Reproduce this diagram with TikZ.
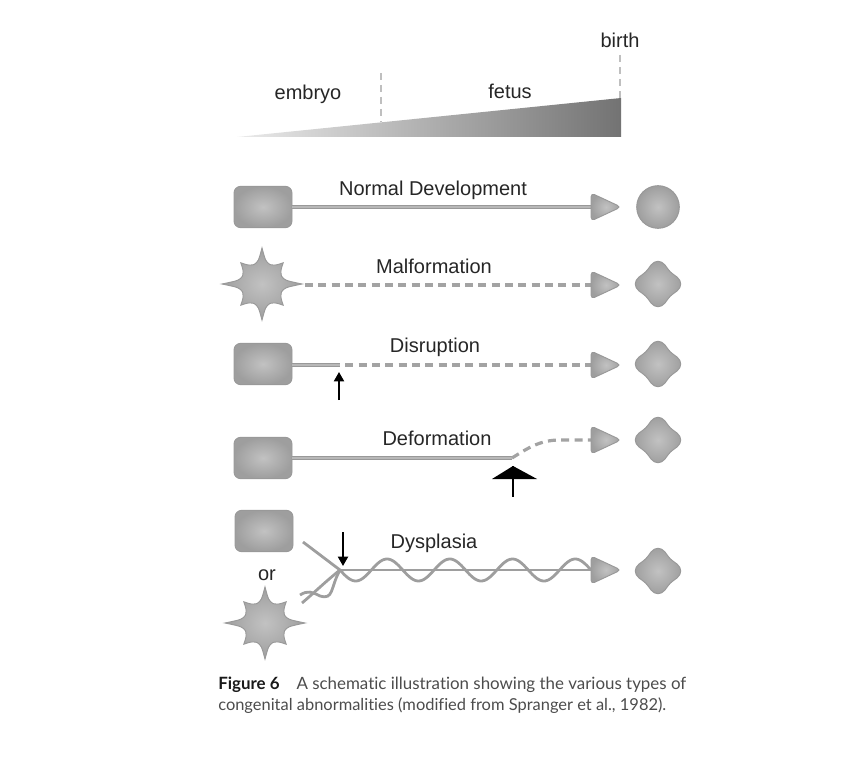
\documentclass[tikz,border=0pt]{standalone}
\usepackage{fontspec}
\setmainfont{Liberation Sans}
\newfontfamily\capfont{Lato}[Ligatures=NoCommon]
\usetikzlibrary{arrows.meta}
\tikzset{
  lbl/.style={font=\fontsize{15}{18}\selectfont, text=black!85, inner sep=0pt, anchor=base},
  shp/.style={draw=black!40, line width=0.7pt, inner color=black!24, outer color=black!38},
  cell/.style={shp, rounded corners=5pt, minimum width=43.5pt, minimum height=31pt, inner sep=0pt},
  ball/.style={shp, circle, minimum size=32pt, inner sep=0pt},
  wire/.style={draw=black!40, double=black!28, line width=0.8pt, double distance=1.1pt},
  dwire/.style={draw=black!36, line width=2.4pt, dash pattern=on 6pt off 4pt},
  wave/.style={draw=black!38, line width=2.1pt},
  vdash/.style={draw=black!25, line width=1.5pt, dash pattern=on 5pt off 4pt},
  hitarrow/.style={draw=black, line width=1.5pt, -{Triangle[width=7.5pt,length=7pt]}},
  spiky/.pic={\path[shp] (-22.5:21) \foreach \a/\R in {0/40,45/30,90/36,135/30,180/40,225/30,270/36,315/30} { .. controls (\a-9:23) .. (\a:\R) .. controls (\a+9:23) .. (\a+22.5:21) } -- cycle;},
  quad/.pic={\path[shp] (-7,-19) .. controls (-3,-24) and (3,-24) .. (7,-19) .. controls (12,-12) .. (19,-7) .. controls (24,-3) and (24,3) .. (19,7) .. controls (12,12) .. (7,19) .. controls (3,24) and (-3,24) .. (-7,19) .. controls (-12,12) .. (-19,7) .. controls (-24,3) and (-24,-3) .. (-19,-7) .. controls (-12,-12) .. (-7,-19) -- cycle;},
  tri/.pic={\path[shp, rounded corners=3pt] (0,-14) -- (30,0) -- (0,14) -- cycle;}
}
\begin{document}
\begin{tikzpicture}[x=0.75pt,y=-0.75pt]
\useasboundingbox (0,0) rectangle (860,784);
% timeline wedge
\shade[left color=black!8, right color=black!55] (237,137) -- (621,98) -- (621,137) -- cycle;
\coordinate (e1) at (381,73); \coordinate (e2) at (381,122);
\coordinate (b1) at (620,55); \coordinate (b2) at (620,98);
\draw[vdash] (e1) -- (e2);
\draw[vdash] (b1) -- (b2);
\node[lbl] (embryo) at (308,100) {embryo};
\node[lbl] (fetus) at (510,99) {fetus};
\node[lbl] (birth) at (620,48) {birth};

% Row 1: normal development
\node[cell] (r1) at (263,207) {};
\coordinate (t1) at (591,207);
\draw[wire] (r1.east) -- (t1);
\pic at (t1) {tri};
\node[ball] (c1) at (658,207) {};
\node[lbl] (l1) at (433,196) {Normal Development};

% Row 2: malformation
\coordinate (s2) at (262,284);
\pic at (s2) {spiky};
\coordinate (s2e) at (305,285);
\coordinate (t2) at (591,285);
\draw[dwire] (s2e) -- (t2);
\pic at (t2) {tri};
\coordinate (q2) at (658,284);
\pic at (q2) {quad};
\node[lbl] (l2) at (434,273) {Malformation};

% Row 3: disruption
\node[cell] (r3) at (263,364) {};
\coordinate (k3) at (340,365);
\coordinate (t3) at (591,365);
\draw[wire] (r3.east |- k3) -- (k3);
\draw[dwire, shorten <=4pt] (k3) -- (t3);
\pic at (t3) {tri};
\coordinate (q3) at (658,364);
\pic at (q3) {quad};
\coordinate (a3s) at (339,400); \coordinate (a3e) at (339,372);
\draw[hitarrow] (a3s) -- (a3e);
\node[lbl] (l3) at (435,352) {Disruption};

% Row 4: deformation
\node[cell] (r4) at (263,458) {};
\coordinate (k4) at (512,458);
\coordinate (t4) at (591,440);
\draw[wire] (r4.east) -- (k4);
\draw[dwire] (k4) .. controls (528,448) and (540,440) .. (560,440) -- (t4);
\pic at (t4) {tri};
\coordinate (q4) at (658,440);
\pic at (q4) {quad};
\coordinate (h4a) at (492,479); \coordinate (h4b) at (513,466); \coordinate (h4c) at (537,479);
\coordinate (h4s) at (513,497);
\fill[black] (h4a) -- (h4b) -- (h4c) -- cycle;
\draw[black, line width=1.6pt] (h4b) -- (h4s);
\node[lbl] (l4) at (437,445) {Deformation};

% Row 5: dysplasia
\node[cell] (r5) at (264,531) {};
\node[lbl] (or) at (267,580) {or};
\coordinate (s5) at (265,623);
\pic at (s5) {spiky};
\coordinate (j5) at (340,570);
\coordinate (u5) at (303,542);
\coordinate (t5) at (591,570);
\draw[wave] (u5) -- (j5);
\draw[wave] (j5) .. controls (325,582) and (315,592) .. (302,603);
\draw[wave] (j5) .. controls (330,588) and (334,600) .. (320,596) .. controls (312,592) and (308,590) .. (300,595);
\draw[wave] (j5) -- (t5);
\draw[wave] plot[domain=0:251, samples=150, smooth] ({\x+340}, {570+11*sin(\x*5.7371)});
\pic at (t5) {tri};
\coordinate (q5) at (658,571);
\pic at (q5) {quad};
\coordinate (a5s) at (343,532); \coordinate (a5e) at (343,566);
\draw[hitarrow] (a5s) -- (a5e);
\node[lbl] (l5) at (434,548) {Dysplasia};

% caption
\node[anchor=base west, inner sep=0pt] (cap1) at (218,689) {\resizebox{351pt}{!}{\capfont\color{black!70}{\bfseries\color{black!90}Figure 6}\quad A schematic illustration showing the various types of}};
\node[anchor=base west, inner sep=0pt] (cap2) at (218,710) {\resizebox{336pt}{!}{\capfont\color{black!70}congenital abnormalities (modified from Spranger et al., 1982).}};
\end{tikzpicture}
\end{document}
